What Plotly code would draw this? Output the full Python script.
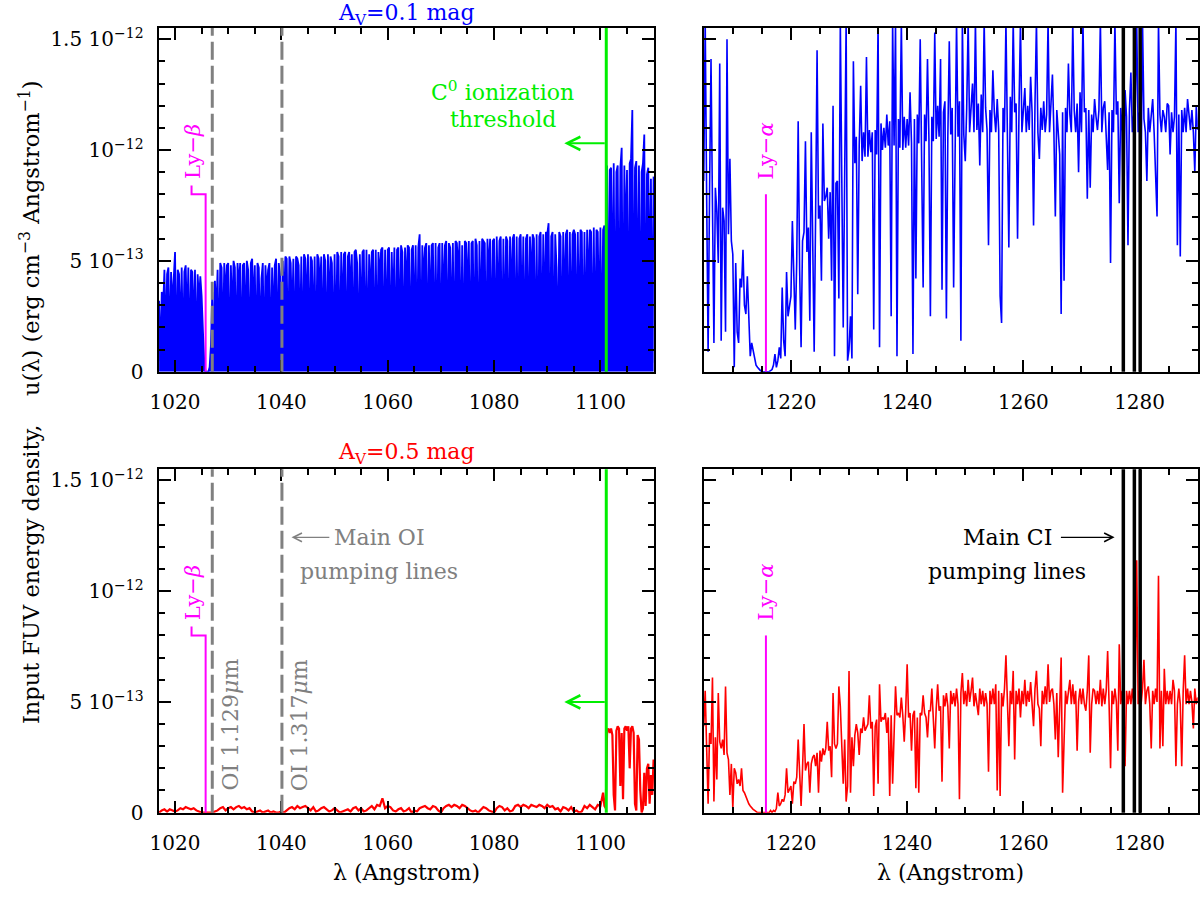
import plotly.graph_objects as go

# FUV energy density, in units of 1e-13 erg cm-3 Angstrom-1
# top-left: Av = 0.1 mag, 1017-1110 A, sampled every 0.25 A
tlStart, tlStep = 1017.0, 0.25
uTopLeft = [
    3.2, 0.5, 3.6, 2.8,  4.6, 1.2, 4.4, 4.7,  0.8, 4.5, 3.0, 4.6,  5.4, 0.2, 4.6, 4.4,
    1.5, 4.7, 0.6, 4.5,  4.8, 2.2, 4.7, 0.4,  4.6, 4.5, 1.8, 4.6,  0.3, 4.4, 3.2, 4.3,
    3.4, 1.8, 0.4, 0.0,  0.0, 0.0, 0.2, 1.2,  3.6, 0.5, 4.1, 2.6,  4.6, 0.2, 4.9, 4.7,
    1.0, 4.9, 3.3, 4.8,  4.9, 0.1, 4.8, 2.4,  5.0, 4.7, 0.5, 4.9,  3.9, 4.9, 0.2, 4.8,
    4.9, 1.6, 5.0, 4.6,  0.3, 4.9, 5.1, 2.8,  4.8, 0.4, 4.9, 4.7,  1.2, 4.2, 4.9, 0.1,
    4.8, 3.5, 4.6, 4.9,  0.2, 4.7, 2.0, 4.8,  5.1, 0.6, 4.9, 4.4,  0.1, 5.0, 3.1, 5.2,
    5.1, 0.3, 5.2, 4.9,  2.2, 5.1, 0.4, 5.2,  5.1, 4.8, 1.1, 5.2,  0.2, 5.3, 5.1, 2.6,
    5.3, 0.5, 5.2, 5.0,  1.4, 5.2, 0.1, 5.3,  5.1, 3.7, 5.2, 0.6,  5.3, 5.0, 0.2, 5.3,
    2.9, 5.2, 4.9, 0.3,  5.3, 0.8, 5.4, 5.2,  0.2, 5.4, 2.4, 5.3,  5.4, 0.1, 5.2, 5.4,
    3.4, 5.3, 0.5, 5.4,  5.5, 4.9, 0.2, 5.3,  1.9, 5.4, 5.5, 0.4,  5.5, 0.3, 5.3, 3.1,
    5.4, 5.5, 0.1, 5.5,  0.6, 5.4, 4.2, 5.5,  5.6, 0.2, 5.5, 1.3,  5.5, 5.6, 0.4, 5.4,
    2.7, 5.6, 0.1, 5.5,  5.6, 1.0, 5.7, 5.4,  0.3, 5.6, 3.6, 5.7,  5.6, 0.2, 5.5, 5.7,
    1.5, 5.7, 0.6, 5.6,  6.2, 0.1, 5.7, 4.0,  5.6, 5.8, 0.3, 5.7,  2.2, 5.7, 5.8, 0.2,
    5.8, 0.7, 5.6, 5.8,  0.1, 5.8, 2.9, 5.7,  5.9, 0.4, 5.8, 5.6,  1.2, 5.8, 0.2, 5.9,
    5.8, 4.6, 5.9, 0.5,  5.7, 0.1, 5.9, 5.8,  3.3, 5.9, 0.3, 5.8,  5.9, 0.6, 6.0, 5.7,
    0.2, 5.9, 1.8, 6.0,  5.9, 5.8, 0.1, 6.0,  4.4, 6.0, 0.5, 5.9,  6.0, 0.2, 6.1, 2.5,
    5.9, 6.1, 0.1, 6.0,  0.8, 6.1, 5.9, 0.3,  6.1, 3.0, 6.0, 6.2,  0.1, 6.1, 0.6, 6.0,
    6.2, 1.7, 6.1, 0.2,  6.0, 6.2, 0.4, 6.1,  3.8, 6.2, 6.0, 0.1,  6.2, 0.3, 6.1, 6.3,
    0.5, 6.2, 2.1, 6.3,  6.2, 6.7, 0.2, 6.1,  6.3, 0.1, 6.2, 4.7,  0.6, 6.3, 6.1, 0.2,
    6.3, 2.6, 6.2, 6.4,  0.1, 6.3, 0.8, 6.2,  6.4, 6.2, 0.3, 6.3,  1.4, 6.4, 6.3, 0.1,
    6.3, 0.5, 6.4, 3.5,  6.4, 6.3, 0.2, 6.5,  0.4, 6.4, 6.3, 1.9,  6.5, 0.1, 6.4, 6.6,
    0.3, 9.3, 0.2, 9.1,  9.2, 2.5, 9.4, 0.1,  9.0, 9.3, 0.4, 9.2,  10.1, 0.2, 9.3, 5.5,
    9.1, 0.1, 9.4, 9.6,  11.8, 0.3, 9.2, 9.5,  1.6, 9.3, 0.2, 9.0,  9.4, 10.7, 0.1, 8.9,
    9.2, 3.1, 8.7, 0.4,  8.8,
]

# bottom-left: Av = 0.5 mag, below the C0 threshold every 0.5 A, above it every 0.25 A
blLowStart, blLowStep = 1017.0, 0.5
uBottomLeftLow = [
    0.0, 0.1,  0.15, 0.05,  0.15, 0.1,  0.05, 0.1,  0.2, 0.15,  0.25, 0.2,  0.15, 0.2,
    0.1, 0.05,  0.0, 0.0,  0.0, 0.0,  0.0, 0.05,  0.1, 0.2,  0.25, 0.1,  0.2, 0.25,
    0.15, 0.25,  0.3, 0.2,  0.25, 0.15,  0.2, 0.05,  0.0, 0.05,  0.1, 0.0,  0.05, 0.1,
    0.0, 0.05,  0.0, 0.0,  0.05, 0.0,  0.1, 0.2,  0.25, 0.15,  0.3, 0.2,  0.25, 0.3,
    0.2, 0.1,  0.25, 0.05,  0.1, 0.2,  0.25, 0.15,  0.05, 0.1,  0.2, 0.1,  0.0, 0.05,
    0.1, 0.15,  0.05, 0.2,  0.25, 0.1,  0.2, 0.05,  0.1, 0.2,  0.3, 0.15,  0.35, 0.3,
    0.65, 0.2,  0.3, 0.25,  0.1, 0.05,  0.15, 0.2,  0.05, 0.1,  0.2, 0.0,  0.1, 0.05,
    0.2, 0.25,  0.3, 0.2,  0.15, 0.3,  0.25, 0.1,  0.0, 0.2,  0.3, 0.35,  0.25, 0.35,
    0.3, 0.2,  0.35, 0.3,  0.2, 0.1,  0.05, 0.1,  0.0, 0.15,  0.25, 0.2,  0.1, 0.05,
    0.0, 0.2,  0.3, 0.25,  0.1, 0.2,  0.05, 0.1,  0.3, 0.35,  0.25, 0.35,  0.3, 0.2,
    0.35, 0.3,  0.25, 0.35,  0.3, 0.2,  0.35, 0.25,  0.3, 0.15,  0.2, 0.05,  0.25, 0.2,
    0.1, 0.25,  0.05, 0.1,  0.0, 0.05,  0.3, 0.2,  0.35, 0.25,  0.15, 0.35,  0.3, 0.9,
]
blHighStart, blHighStep = 1100.75, 0.25
uBottomLeftHigh = [
    0.3, 0.2, 3.7, 3.8, 3.6,  3.8, 3.5, 0.8, 0.1,  3.7, 3.9, 3.8, 1.2,  3.6, 0.6, 3.8, 3.9,
    3.7, 3.9, 2.0, 3.8,  3.9, 3.6, 0.4, 0.1,  3.5, 3.3, 1.0, 0.0,  0.2, 1.8, 0.3, 2.0,
    2.2, 0.4, 1.7, 0.8,  2.4,
]

# right-hand panels: 1205-1290 A, every 0.25 A
rStart, rStep = 1205.0, 0.25
uTopRight = [
    8.6, 15.8, 7.9, 0.9,  8.1, 14.1, 7.5, 1.3,  8.3, 7.2, 4.9, 13.9,  1.4, 7.4, 6.8, 1.8,
    15.0, 6.2, 9.6, 5.9,  5.3, 0.2, 4.9, 1.8,  1.3, 4.2, 3.8, 5.5,  3.0, 2.6, 4.3, 2.2,
    0.7, 1.3, 1.0, 0.7,  0.3, 0.2, 0.1, 0.05,  0.0, 0.0, 0.0, 0.0,  0.0, 0.0, 0.05, 0.1,
    0.3, 0.8, 0.2, 0.5,  1.1, 0.6, 3.8, 1.4,  0.7, 4.5, 2.5, 2.9,  3.4, 6.8, 3.9, 1.9,
    5.0, 11.3, 4.6, 1.1,  5.9, 6.3, 10.4, 5.4,  6.5, 2.3, 10.8, 6.7,  0.9, 7.1, 14.5, 6.9,
    7.5, 4.1, 11.2, 7.7,  7.9, 8.3, 6.0, 8.1,  4.1, 12.0, 0.7, 8.5,  8.6, 3.3, 15.8, 8.8,
    2.0, 8.9, 15.8, 0.5,  1.0, 2.5, 0.6, 14.0,  9.4, 10.6, 3.5, 10.2,  12.9, 9.5, 10.8, 9.7,
    14.2, 9.7, 10.9, 9.9,  10.8, 1.9, 10.9, 9.8,  15.8, 1.1, 11.2, 10.0,  11.0, 10.1, 11.6, 10.2,
    11.3, 2.5, 15.8, 10.2,  15.8, 0.7, 11.4, 10.1,  15.8, 10.0, 11.5, 10.1,  11.4, 10.2, 12.6, 10.3,
    0.8, 11.4, 4.2, 11.6,  10.3, 15.0, 10.4, 3.8,  11.6, 10.4, 14.1, 10.5,  2.5, 11.5, 10.4, 15.3,
    10.5, 12.0, 10.6, 14.1,  3.7, 11.7, 12.2, 2.4,  10.6, 14.9, 10.7, 11.9,  3.8, 11.8, 15.8, 10.6,
    12.2, 1.4, 15.8, 10.7,  9.5, 11.9, 15.8, 10.8,  11.8, 13.0, 10.8, 15.8,  10.9, 12.1, 9.3, 12.5,
    10.8, 15.8, 11.9, 10.9,  5.7, 11.8, 10.8, 13.6,  11.7, 10.8, 12.3, 10.9,  3.4, 2.2, 11.9, 10.8,
    15.8, 11.6, 5.6, 12.4,  10.8, 15.8, 11.7, 12.1,  6.0, 11.9, 15.8, 10.8,  11.8, 12.8, 10.8, 12.0,
    10.9, 13.3, 11.7, 6.6,  12.1, 15.8, 10.8, 9.6,  11.9, 10.9, 12.2, 10.8,  11.6, 15.8, 10.8, 12.0,
    13.4, 10.8, 7.0, 11.8,  10.9, 9.8, 2.6, 11.7,  4.1, 11.9, 10.8, 13.9,  11.6, 10.8, 15.8, 11.8,
    10.8, 12.1, 9.0, 12.6,  10.8, 15.8, 11.7, 11.9,  7.8, 11.8, 8.3, 11.6,  10.8, 12.3, 11.5, 10.9,
    11.8, 15.8, 10.8, 11.9,  12.2, 10.8, 9.1, 11.7,  4.9, 11.8, 10.8, 15.8,  11.6, 12.2, 7.6, 11.9,
    10.8, 6.0, 12.7, 11.5,  5.7, 11.8, 13.5, 10.8,  11.6, 11.9, 15.8, 10.8,  11.7, 8.6, 15.8, 11.4,
    10.8, 8.6, 11.9, 10.8,  11.7, 12.3, 10.8, 9.0,  7.0, 15.8, 11.6, 10.8,  11.8, 11.5, 10.8, 12.1,
    12.0, 9.8, 11.7, 10.8,  11.5, 15.8, 5.7, 11.6,  5.2, 11.8, 10.8, 11.9,  10.8, 12.3, 11.6, 10.9,
    11.8, 10.8, 9.0, 12.0,  10.9,
]
uBottomRight = [
    3.9, 5.5, 2.9, 0.4,  3.6, 3.1, 6.1, 0.5,  3.4, 1.5, 5.4, 3.2,  2.9, 3.3, 2.6, 5.7,
    2.7, 2.4, 0.8, 2.2,  0.2, 2.0, 1.8, 1.3,  1.5, 1.2, 2.0, 1.0,  0.9, 0.7, 0.6, 0.4,
    0.3, 0.2, 0.15, 0.1,  0.05, 0.0, 0.0, 0.0,  0.0, 0.0, 0.0, 0.0,  0.0, 0.0, 0.1, 0.0,
    0.1, 0.05, 0.2, 0.9,  0.3, 0.4, 0.6, 0.5,  0.8, 2.0, 0.9, 1.1,  1.2, 0.4, 1.4, 1.3,
    1.6, 3.3, 1.8, 0.3,  2.0, 4.0, 1.9, 2.2,  2.3, 0.9, 2.2, 2.5,  2.6, 2.1, 2.7, 0.9,
    2.8, 2.3, 2.9, 2.6,  2.9, 4.1, 2.8, 3.0,  1.6, 5.4, 3.1, 2.9,  3.1, 5.7, 4.8, 3.2,
    1.3, 3.3, 0.5, 1.2,  6.4, 0.9, 3.4, 2.1,  3.5, 4.0, 3.6, 2.6,  3.8, 3.6, 4.3, 3.7,
    3.9, 4.0, 5.3, 3.8,  4.1, 0.75, 3.9, 4.2,  1.3, 5.8, 4.1, 4.3,  4.2, 4.5, 3.6, 4.3,
    0.75, 4.4, 1.3, 4.2,  5.7, 4.4, 4.5, 4.3,  5.2, 4.4, 3.2, 4.6,  6.7, 4.3, 4.5, 2.8,
    4.4, 4.6, 1.1, 4.3,  0.9, 4.5, 4.4, 5.3,  4.5, 4.3, 3.4, 4.6,  4.6, 5.6, 4.5, 2.9,
    4.7, 5.8, 4.6, 4.8,  1.4, 5.3, 4.8, 5.4,  4.8, 2.9, 5.5, 4.9,  5.4, 4.8, 5.6, 4.9,
    0.6, 5.4, 6.3, 4.9,  5.5, 4.8, 6.0, 5.0,  5.5, 6.1, 4.8, 5.4,  4.9, 4.4, 5.6, 4.9,
    5.5, 4.8, 5.4, 4.9,  1.85, 5.5, 4.9, 5.6,  4.9, 5.8, 1.0, 5.5,  0.75, 5.4, 4.8, 5.6,
    7.1, 4.9, 3.0, 5.5,  4.9, 6.4, 2.4, 5.5,  4.9, 5.6, 4.3, 5.5,  4.9, 6.0, 4.8, 5.5,
    5.0, 5.9, 4.9, 3.9,  5.6, 6.4, 4.9, 4.7,  3.0, 5.5, 4.9, 5.7,  4.9, 6.7, 5.0, 5.5,
    5.6, 4.9, 3.3, 5.4,  2.5, 5.5, 7.0, 0.9,  3.3, 5.5, 4.9, 5.6,  6.0, 4.9, 5.8, 4.9,
    5.5, 2.8, 5.0, 5.6,  4.9, 5.6, 4.9, 4.6,  5.5, 7.1, 2.7, 4.9,  5.6, 5.5, 4.9, 5.5,
    4.9, 6.0, 4.8, 5.6,  4.9, 5.5, 7.3, 4.9,  2.0, 5.5, 4.9, 5.6,  5.0, 2.8, 7.6, 4.9,
    5.5, 4.9, 2.1, 5.5,  4.9, 5.5, 4.9, 5.6,  4.9, 5.5, 11.4, 4.9,  5.5, 4.9, 5.6, 6.9,
    4.9, 5.5, 5.7, 4.9,  2.9, 5.5, 4.9, 5.6,  5.0, 10.7, 2.9, 5.5,  3.0, 6.5, 4.9, 5.5,
    4.9, 5.5, 4.9, 6.0,  5.5, 2.1, 4.9, 5.6,  4.9, 2.1, 5.5, 7.1,  4.9, 5.6, 4.9, 5.5,
    5.0, 3.8, 5.6, 4.9,  5.2,
]

# marked wavelengths (Angstrom)
lyBeta = 1025.75
lyAlpha = 1215.7
oiLines = [1027.0, 1040.1]
cThreshold = 1101.1
ciLines = [1277.2, 1279.1, 1280.1]

# y-axis ticks
yTickVals = [0, 5, 10, 15]
yTickText = ["0", "5 10<sup>−13</sup>", "10<sup>−12</sup>", "1.5 10<sup>−12</sup>"]

FONT = "DejaVu Serif"
BLUE = "#0000ff"
RED = "#ff0000"
MAGENTA = "#ff00ff"
GREEN = "#00ee00"
GRAY = "#808080"
TXT = 22


def grid(start, step, values):
    return [start + step * i for i in range(len(values))]


fig = go.Figure()

fig.add_trace(go.Scatter(x=grid(tlStart, tlStep, uTopLeft), y=uTopLeft, mode="lines",
                         line=dict(color=BLUE, width=1.8), fill="tozeroy", fillcolor=BLUE,
                         xaxis="x", yaxis="y"))
fig.add_trace(go.Scatter(x=grid(rStart, rStep, uTopRight), y=uTopRight, mode="lines",
                         line=dict(color=BLUE, width=1.6), xaxis="x2", yaxis="y2"))
fig.add_trace(go.Scatter(x=grid(blLowStart, blLowStep, uBottomLeftLow) + grid(blHighStart, blHighStep, uBottomLeftHigh),
                         y=uBottomLeftLow + uBottomLeftHigh, mode="lines",
                         line=dict(color=RED, width=2.2), xaxis="x3", yaxis="y3"))
fig.add_trace(go.Scatter(x=grid(rStart, rStep, uBottomRight), y=uBottomRight, mode="lines",
                         line=dict(color=RED, width=1.6), xaxis="x4", yaxis="y4"))

leftDom = [150.7 / 1200, 650 / 1200]
rightDom = [700 / 1200, 1197.7 / 1200]
topDom = [(897 - 375) / 897, (897 - 25.5) / 897]
botDom = [(897 - 823.4) / 897, (897 - 474.3) / 897]


def xAxis(rng, dom, anchor, dtick):
    return dict(range=rng, domain=dom, anchor=anchor, tickmode="linear", dtick=dtick,
                ticks="inside", ticklen=12, tickwidth=1.8, tickcolor="black",
                showline=True, linewidth=2, linecolor="black", mirror="allticks",
                showgrid=False, zeroline=False, ticklabelstandoff=11,
                tickfont=dict(family=FONT, size=20, color="black"),
                minor=dict(dtick=5, ticks="inside", ticklen=6, tickwidth=1.5, tickcolor="black", showgrid=False))


def yAxis(dom, anchor, labels):
    return dict(range=[0, 15.5], domain=dom, anchor=anchor, tickmode="array",
                tickvals=yTickVals, ticktext=yTickText, showticklabels=labels,
                ticks="inside", ticklen=12, tickwidth=1.8, tickcolor="black",
                showline=True, linewidth=2, linecolor="black", mirror="allticks",
                showgrid=False, zeroline=False, ticklabelstandoff=9,
                tickfont=dict(family=FONT, size=20, color="black"),
                minor=dict(tickmode="linear", tick0=0, dtick=1, ticks="inside", ticklen=6,
                           tickwidth=1.5, tickcolor="black", showgrid=False))


fig.update_layout(
    width=1200, height=897, showlegend=False,
    margin=dict(l=0, r=0, t=0, b=0),
    paper_bgcolor="white", plot_bgcolor="white",
    font=dict(family=FONT, size=20, color="black"),
    xaxis=xAxis([1016.9, 1110.1], leftDom, "y", 20),
    yaxis=yAxis(topDom, "x", True),
    xaxis2=xAxis([1205, 1290], rightDom, "y2", 20),
    yaxis2=yAxis(topDom, "x2", False),
    xaxis3=xAxis([1016.9, 1110.1], leftDom, "y3", 20),
    yaxis3=yAxis(botDom, "x3", True),
    xaxis4=xAxis([1205, 1290], rightDom, "y4", 20),
    yaxis4=yAxis(botDom, "x4", False),
)

shapes = []
annots = []

for xr, yr in [("x", "y"), ("x3", "y3")]:
    for wl in oiLines:
        shapes.append(dict(type="line", xref=xr, yref=yr + " domain", x0=wl, x1=wl, y0=0, y1=1,
                           line=dict(color=GRAY, width=3, dash="18px,6px"), layer="above"))
    shapes.append(dict(type="line", xref=xr, yref=yr + " domain", x0=cThreshold, x1=cThreshold, y0=0, y1=1,
                       line=dict(color=GREEN, width=3), layer="above"))
    shapes.append(dict(type="path", xref=xr, yref=yr, layer="above",
                       path="M %s,0 L %s,8.0 L %s,8.0 L %s,8.4" % (lyBeta, lyBeta, lyBeta - 2.65, lyBeta - 2.65),
                       line=dict(color=MAGENTA, width=2)))
    annots.append(dict(xref=xr, yref=yr, x=lyBeta - 2.4, y=9.95, text="Ly−<i>β</i>", textangle=-90,
                       showarrow=False, font=dict(color=MAGENTA, size=21)))

for xr, yr in [("x2", "y2"), ("x4", "y4")]:
    for wl in ciLines:
        shapes.append(dict(type="line", xref=xr, yref=yr + " domain", x0=wl, x1=wl, y0=0, y1=1,
                           line=dict(color="black", width=3.5), layer="above"))
    shapes.append(dict(type="line", xref=xr, yref=yr, x0=lyAlpha, x1=lyAlpha, y0=0, y1=8.0,
                       line=dict(color=MAGENTA, width=2), layer="above"))
    annots.append(dict(xref=xr, yref=yr, x=lyAlpha + 0.1, y=9.95, text="Ly−<i>α</i>", textangle=-90,
                       showarrow=False, font=dict(color=MAGENTA, size=21)))

# C0 ionization threshold
annots += [
    dict(xref="x", yref="y", x=1081.5, y=12.66, text="C<sup>0</sup> ionization", showarrow=False,
         font=dict(color=GREEN, size=TXT)),
    dict(xref="x", yref="y", x=1081.7, y=11.38, text="threshold", showarrow=False,
         font=dict(color=GREEN, size=TXT)),
]
for xr, yr, ya in [("x", "y", 10.3), ("x3", "y3", 5.0)]:
    annots.append(dict(xref=xr, yref=yr, axref=xr, ayref=yr, x=1093.2, y=ya, ax=cThreshold, ay=ya,
                       text="", showarrow=True, arrowhead=5, arrowsize=1.3, arrowwidth=2,
                       arrowcolor=GREEN, standoff=0))

# OI pumping lines
annots += [
    dict(xref="x3", yref="y3", x=1058.5, y=12.43, text="Main OI", showarrow=False,
         font=dict(color=GRAY, size=TXT)),
    dict(xref="x3", yref="y3", x=1058.4, y=10.9, text="pumping lines", showarrow=False,
         font=dict(color=GRAY, size=TXT)),
    dict(xref="x3", yref="y3", axref="x3", ayref="y3", x=1041.9, y=12.43, ax=1049.3, ay=12.43,
         text="", showarrow=True, arrowhead=5, arrowsize=1.3, arrowwidth=1.3, arrowcolor=GRAY, standoff=0),
    dict(xref="x3", yref="y3", x=1030.5, y=3.97, text="OI 1.129<i>μ</i>m", textangle=-90,
         showarrow=False, font=dict(color=GRAY, size=TXT)),
    dict(xref="x3", yref="y3", x=1043.4, y=3.97, text="OI 1.317<i>μ</i>m", textangle=-90,
         showarrow=False, font=dict(color=GRAY, size=TXT)),
]

# CI pumping lines
annots += [
    dict(xref="x4", yref="y4", x=1257.2, y=12.43, text="Main CI", showarrow=False,
         font=dict(color="black", size=TXT)),
    dict(xref="x4", yref="y4", x=1257.1, y=10.9, text="pumping lines", showarrow=False,
         font=dict(color="black", size=TXT)),
    dict(xref="x4", yref="y4", axref="x4", ayref="y4", x=1275.7, y=12.43, ax=1266.2, ay=12.43,
         text="", showarrow=True, arrowhead=5, arrowsize=1.3, arrowwidth=1.3, arrowcolor="black", standoff=0),
]

# titles and axis labels
nb = "\u00a0"
paperText = dict(xref="paper", yref="paper", showarrow=False, xanchor="center", yanchor="middle")
annots += [
    dict(paperText, x=400.3 / 1200, y=(897 - 12) / 897, text="A<sub>V</sub>=0.1 mag",
         font=dict(color=BLUE, size=TXT)),
    dict(paperText, x=400.3 / 1200, y=(897 - 458) / 897, text="A<sub>V</sub>=0.5 mag",
         font=dict(color=RED, size=TXT)),
    dict(paperText, x=400.3 / 1200, y=(897 - 884) / 897, text="λ (Angstrom)", font=dict(size=TXT)),
    dict(paperText, x=948.8 / 1200, y=(897 - 884) / 897, text="λ (Angstrom)", font=dict(size=TXT)),
    dict(paperText, x=20 / 1200, y=(897 - 406) / 897, textangle=-90,
         text="Input FUV energy density," + nb * 4 + "u(λ) (erg cm<sup>−3</sup> Angstrom<sup>−1</sup>)",
         font=dict(size=22.5)),
]

fig.update_layout(shapes=shapes, annotations=annots)
fig.write_html("out.html", config={"displayModeBar": False},
               post_script="document.body.style.margin='0';")
